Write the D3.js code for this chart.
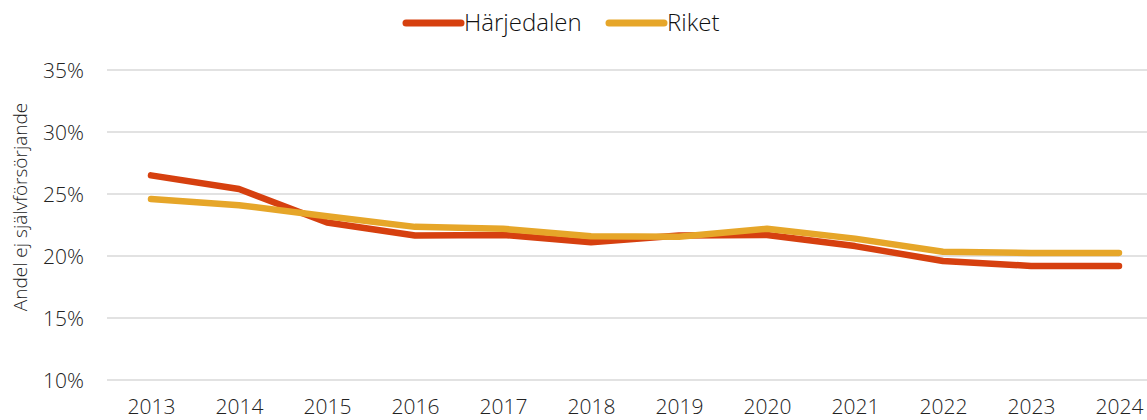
<!DOCTYPE html>
<html>
<head>
<meta charset="utf-8">
<script src="https://cdn.jsdelivr.net/npm/d3@7"></script>
<style>
  html, body { margin: 0; padding: 0; background: #fff; }
  svg { display: block; font-family: "Open Sans", sans-serif; font-weight: 300; }
</style>
</head>
<body>
<svg id="chart" width="1147" height="420"></svg>
<script>
const years = ["2013","2014","2015","2016","2017","2018","2019","2020","2021","2022","2023","2024"];
const harjedalen = [26.5, 25.4, 22.7, 21.65, 21.7, 21.1, 21.65, 21.7, 20.8, 19.6, 19.2, 19.2];
const riket = [24.6, 24.1, 23.2, 22.35, 22.2, 21.6, 21.55, 22.2, 21.4, 20.35, 20.25, 20.25];
const yTicks = [10, 15, 20, 25, 30, 35];
const seriesNames = ["Härjedalen", "Riket"];
const seriesColors = ["#D6400F", "#E6A629"];

const svg = d3.select("#chart");
const plot = { left: 107, right: 1163, top: 70, bottom: 380 };

const x = d3.scalePoint().domain(years).range([plot.left, plot.right]).padding(0.5);
const y = d3.scaleLinear().domain([10, 35]).range([plot.bottom, plot.top]);

// horizontal gridlines
svg.append("g")
  .selectAll("line")
  .data(yTicks)
  .join("line")
  .attr("x1", plot.left).attr("x2", 1147)
  .attr("y1", d => y(d)).attr("y2", d => y(d))
  .attr("stroke", "#d9d9d9").attr("stroke-width", 1.5);

// y axis labels
const yAxis = svg.append("g")
  .attr("transform", `translate(${plot.left - 23},0)`)
  .call(d3.axisLeft(y).tickValues(yTicks).tickFormat(d => d + "%").tickSize(0));
yAxis.select(".domain").remove();
yAxis.selectAll("text")
  .attr("x", 0).attr("dy", "0.35em")
  .style("font-family", "'Open Sans', sans-serif").style("font-weight", 300)
  .style("font-size", "21px").attr("fill", "#222");

// x axis labels
const xAxis = svg.append("g")
  .attr("transform", `translate(0,${plot.bottom})`)
  .call(d3.axisBottom(x).tickSize(0));
xAxis.select(".domain").remove();
xAxis.selectAll("text")
  .attr("y", 34).attr("dy", 0)
  .style("font-family", "'Open Sans', sans-serif").style("font-weight", 300)
  .style("font-size", "21px").attr("fill", "#222");

// y axis title
svg.append("text")
  .attr("transform", "translate(27,207) rotate(-90)")
  .attr("text-anchor", "middle")
  .style("font-size", "19px").attr("fill", "#222")
  .text("Andel ej självförsörjande");

// series lines
const line = d3.line().x((d, i) => x(years[i])).y(d => y(d));
[harjedalen, riket].forEach((vals, k) => {
  svg.append("path")
    .datum(vals)
    .attr("d", line)
    .attr("fill", "none")
    .attr("stroke", seriesColors[k])
    .attr("stroke-width", 6.5)
    .attr("stroke-linecap", "round")
    .attr("stroke-linejoin", "round");
});

// legend
const legendX = [406, 609];
seriesNames.forEach((name, k) => {
  const g = svg.append("g").attr("transform", `translate(${legendX[k]},23)`);
  g.append("line")
    .attr("x1", 0).attr("x2", 55).attr("y1", 0).attr("y2", 0)
    .attr("stroke", seriesColors[k]).attr("stroke-width", 7)
    .attr("stroke-linecap", "round");
  g.append("text")
    .attr("x", 58).attr("dy", "0.35em")
    .style("font-size", "24px").attr("fill", "#111")
    .text(name);
});
</script>
</body>
</html>
